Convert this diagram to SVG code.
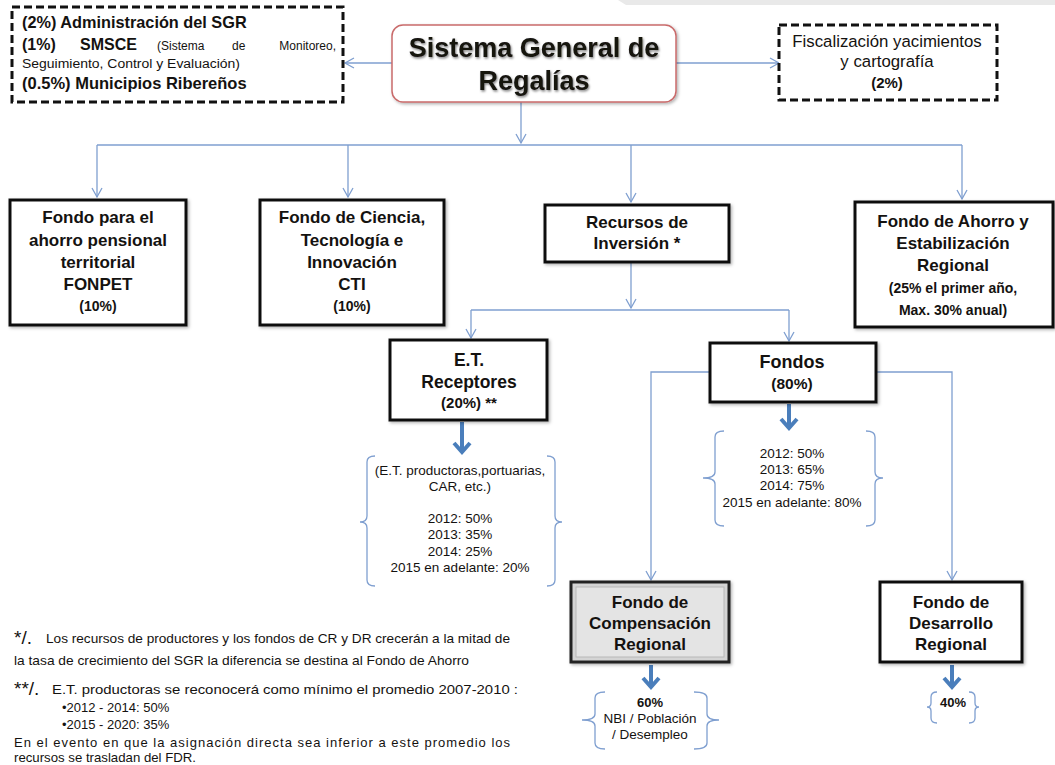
<svg xmlns="http://www.w3.org/2000/svg" width="1055" height="765" viewBox="0 0 1055 765">
<defs>
<style>
text{font-family:"Liberation Sans",Arial,sans-serif;fill:#141210}
.b{font-weight:bold}
.c{text-anchor:middle}
.box{fill:#fff;stroke:#111;stroke-width:3}
.dash{fill:#fff;stroke:#111;stroke-width:3;stroke-dasharray:8 4}
.ln{fill:none;stroke:#7f9fd0;stroke-width:1.3}
.thick{fill:none;stroke:#4a7ebb;stroke-width:4}
.br{fill:none;stroke:#7f9fd0;stroke-width:1.3}
.n16{font-size:17px}
.n14{font-size:14px}
.s13{font-size:13.5px}
.f13{font-size:13px}
</style>
<marker id="ah" markerWidth="12" markerHeight="12" refX="10" refY="6" orient="auto" markerUnits="userSpaceOnUse">
<path d="M1,1 L10,6 L1,11" fill="none" stroke="#7f9fd0" stroke-width="1.3"/>
</marker>
<filter id="sh" x="-10%" y="-10%" width="120%" height="130%">
<feDropShadow dx="1" dy="1.5" stdDeviation="1" flood-color="#000" flood-opacity="0.5"/>
</filter>
<filter id="bs" x="-5%" y="-5%" width="115%" height="115%">
<feDropShadow dx="1.5" dy="1.5" stdDeviation="1.5" flood-color="#000" flood-opacity="0.3"/>
</filter>
</defs>
<rect x="0" y="0" width="1055" height="765" fill="#fff"/>
<polygon points="618,0 1055,0 1055,5 626,5" fill="#e9e9e9"/>

<g id="connectors">
<path class="ln" d="M392,63 L345,63" marker-end="url(#ah)"/>
<path class="ln" d="M676,63 L779,63" marker-end="url(#ah)"/>
<path class="ln" d="M521,102 L521,143" marker-end="url(#ah)"/>
<path class="ln" d="M97,145 L962,145"/>
<path class="ln" d="M97,145 L97,197" marker-end="url(#ah)"/>
<path class="ln" d="M348,145 L348,197" marker-end="url(#ah)"/>
<path class="ln" d="M631,145 L631,202" marker-end="url(#ah)"/>
<path class="ln" d="M962,145 L962,199" marker-end="url(#ah)"/>
<path class="ln" d="M631,262 L631,308" marker-end="url(#ah)"/>
<path class="ln" d="M471,310 L789,310"/>
<path class="ln" d="M471,310 L471,338" marker-end="url(#ah)"/>
<path class="ln" d="M789,310 L789,341" marker-end="url(#ah)"/>
<path class="ln" d="M710,372 L651,372 L651,580" marker-end="url(#ah)"/>
<path class="ln" d="M876,372 L952,372 L952,580" marker-end="url(#ah)"/>
<g id="thick-arrows">
<path class="thick" d="M462,422 L462,452 M454,443 L462,452 L470,443"/>
<path class="thick" d="M789,404 L789,428 M781,419 L789,428 L797,419"/>
<path class="thick" d="M651,665 L651,687 M643,678 L651,687 L659,678"/>
<path class="thick" d="M952,665 L952,687 M944,678 L952,687 L960,678"/>
</g>
</g>

<g id="top-left-box">
<rect class="dash" x="12" y="7" width="331" height="95"/>
<text class="b" x="22" y="28" font-size="16.3">(2%) Administración del SGR</text>
<text class="b" x="22" y="50" font-size="16">(1%)</text>
<text class="b" x="80" y="50" font-size="16">SMSCE</text>
<text x="157" y="50" font-size="12">(Sistema</text>
<text x="232" y="50" font-size="12">de</text>
<text x="336" y="50" font-size="12" text-anchor="end">Monitoreo,</text>
<text x="22" y="68" font-size="12" textLength="218" lengthAdjust="spacingAndGlyphs">Seguimiento, Control y Evaluación)</text>
<text class="b" x="22" y="89" font-size="16.5">(0.5%) Municipios Ribereños</text>
</g>

<g id="title">
<rect x="392" y="25" width="284" height="77" rx="11" fill="#fff" stroke="#c96b6b" stroke-width="1.5" filter="url(#bs)"/>
<text class="b c" x="534" y="57" font-size="27" filter="url(#sh)">Sistema General de</text>
<text class="b c" x="534" y="90" font-size="27" filter="url(#sh)">Regalías</text>
</g>

<g id="top-right-box">
<rect class="dash" x="779" y="25" width="218" height="75"/>
<text class="c" x="887" y="47" font-size="16.8">Fiscalización yacimientos</text>
<text class="c" x="887" y="67" font-size="16.8">y cartografía</text>
<text class="c b" x="887" y="88" font-size="15">(2%)</text>
</g>

<g id="fonpet">
<rect class="box" x="10" y="200" width="176" height="125" filter="url(#bs)"/>
<text class="b c n16" x="98" y="223">Fondo para el</text>
<text class="b c n16" x="98" y="246">ahorro pensional</text>
<text class="b c n16" x="98" y="268">territorial</text>
<text class="b c n16" x="98" y="290">FONPET</text>
<text class="b c n14" x="98" y="311">(10%)</text>
</g>

<g id="cti">
<rect class="box" x="260" y="200" width="184" height="125" filter="url(#bs)"/>
<text class="b c n16" x="352" y="223">Fondo de Ciencia,</text>
<text class="b c n16" x="352" y="246">Tecnología e</text>
<text class="b c n16" x="352" y="268">Innovación</text>
<text class="b c n16" x="352" y="290">CTI</text>
<text class="b c n14" x="352" y="311">(10%)</text>
</g>

<g id="recursos">
<rect class="box" x="545" y="205" width="184" height="57" filter="url(#bs)"/>
<text class="b c" x="637" y="228" font-size="17">Recursos de</text>
<text class="b c" x="637" y="249" font-size="17">Inversión *</text>
</g>

<g id="ahorro">
<rect class="box" x="855" y="202" width="198" height="125" filter="url(#bs)"/>
<text class="b c n16" x="953" y="227">Fondo de Ahorro y</text>
<text class="b c n16" x="953" y="249">Estabilización</text>
<text class="b c n16" x="953" y="271">Regional</text>
<text class="b c n14" x="953" y="293">(25% el primer año,</text>
<text class="b c n14" x="953" y="315">Max. 30% anual)</text>
</g>

<g id="et-receptores">
<rect class="box" x="390" y="340" width="157" height="80" filter="url(#bs)"/>
<text class="b c" x="469" y="366" font-size="17.5">E.T.</text>
<text class="b c" x="469" y="388" font-size="17.5">Receptores</text>
<text class="b c" x="469" y="408" font-size="15">(20%) **</text>
</g>

<g id="et-detail">
<path class="br" d="M375,456 Q367,456 367,462 L367,516 Q367,522 360,522 Q367,522 367,528 L367,580 Q367,586 375,586"/>
<path class="br" d="M547,456 Q555,456 555,462 L555,516 Q555,522 562,522 Q555,522 555,528 L555,580 Q555,586 547,586"/>
<text class="c s13" x="460" y="475">(E.T. productoras,portuarias,</text>
<text class="c s13" x="460" y="491">CAR, etc.)</text>
<text class="c s13" x="460" y="523">2012: 50%</text>
<text class="c s13" x="460" y="539">2013: 35%</text>
<text class="c s13" x="460" y="556">2014: 25%</text>
<text class="c s13" x="460" y="572">2015 en adelante: 20%</text>
</g>

<g id="fondos">
<rect class="box" x="710" y="343" width="166" height="59" filter="url(#bs)"/>
<text class="b c" x="792" y="368" font-size="18">Fondos</text>
<text class="b c" x="792" y="389" font-size="15.5">(80%)</text>
</g>

<g id="fondos-detail">
<path class="br" d="M724,431 Q715,431 715,437 L715,472 Q715,478 703,478 Q715,478 715,484 L715,520 Q715,526 724,526"/>
<path class="br" d="M866,431 Q875,431 875,437 L875,472 Q875,478 883,478 Q875,478 875,484 L875,520 Q875,526 866,526"/>
<text class="c s13" x="792" y="458">2012: 50%</text>
<text class="c s13" x="792" y="474">2013: 65%</text>
<text class="c s13" x="792" y="490">2014: 75%</text>
<text class="c s13" x="792" y="507">2015 en adelante: 80%</text>
</g>

<g id="compensacion">
<rect x="571" y="582" width="158" height="80" fill="#d4d4d4" stroke="#222" stroke-width="3" filter="url(#bs)"/>
<rect x="576" y="587" width="148" height="70" fill="#e4e4e4" stroke="#b8b8b8" stroke-width="1"/>
<text class="b c n16" x="650" y="608">Fondo de</text>
<text class="b c n16" x="650" y="629">Compensación</text>
<text class="b c n16" x="650" y="650">Regional</text>
</g>

<g id="compensacion-detail">
<path class="br" d="M605,692 Q595,692 595,698 L595,714 Q595,720 582,720 Q595,720 595,726 L595,743 Q595,749 605,749"/>
<path class="br" d="M694,692 Q707,692 707,698 L707,714 Q707,720 719,720 Q707,720 707,726 L707,743 Q707,749 694,749"/>
<text class="c b" x="650" y="707" font-size="13">60%</text>
<text class="c s13" x="650" y="723">NBI / Población</text>
<text class="c s13" x="650" y="739">/ Desempleo</text>
</g>

<g id="desarrollo">
<rect class="box" x="880" y="582" width="142" height="80" filter="url(#bs)"/>
<text class="b c n16" x="951" y="608">Fondo de</text>
<text class="b c n16" x="951" y="629">Desarrollo</text>
<text class="b c n16" x="951" y="650">Regional</text>
</g>

<g id="desarrollo-detail">
<path class="br" d="M937,692 Q931,692 931,697 L931,703 Q931,707 927,707 Q931,707 931,711 L931,718 Q931,723 937,723"/>
<path class="br" d="M969,692 Q975,692 975,697 L975,703 Q975,707 979,707 Q975,707 975,711 L975,718 Q975,723 969,723"/>
<text class="c b" x="953" y="707" font-size="13">40%</text>
</g>

<g id="footnotes">
<text x="14" y="644" font-size="19">*/.</text>
<text x="46" y="643" class="f13" textLength="464" lengthAdjust="spacingAndGlyphs">Los recursos de productores y los fondos de CR y DR crecerán a la mitad de</text>
<text x="14" y="665" class="f13" textLength="455" lengthAdjust="spacingAndGlyphs">la tasa de crecimiento del SGR la diferencia se destina al Fondo de Ahorro</text>
<text x="14" y="695" font-size="19">**/.</text>
<text x="52" y="694" class="f13" textLength="466" lengthAdjust="spacingAndGlyphs">E.T. productoras  se reconocerá como mínimo el promedio 2007-2010 :</text>
<text x="62" y="712" font-size="13">•2012 - 2014: 50%</text>
<text x="62" y="729" font-size="13">•2015 - 2020: 35%</text>
<text x="14" y="747" class="f13" textLength="496" lengthAdjust="spacing">En el evento en que la asignación directa sea inferior a este promedio los</text>
<text x="14" y="762" class="f13" textLength="182" lengthAdjust="spacingAndGlyphs">recursos se trasladan del FDR.</text>
</g>
</svg>
